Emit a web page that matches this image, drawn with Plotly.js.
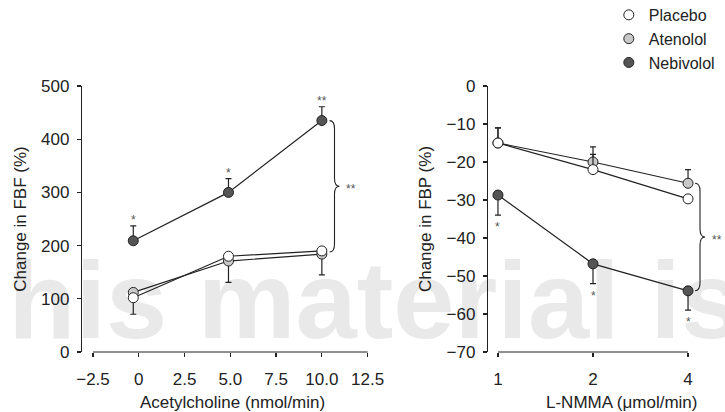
<!DOCTYPE html>
<html><head><meta charset="utf-8">
<script src="https://cdn.plot.ly/plotly-3.0.1.min.js"></script>
<style>html,body{margin:0;padding:0;background:#fff}#chart{width:725px;height:412px}</style>
</head><body><div id="chart"></div>
<script>
// ---- Left panel: acetylcholine dose response (Change in FBF, %) ----
const achDose = [-0.3, 4.9, 10];
const achPlacebo = [102, 180, 190];
const achAtenolol = [112, 171, 184];
const achNebivolol = [209, 300, 435];
const achPlaceboErrDown = [31, 0, 0];
const achAtenololErrDown = [0, 40, 39];
const achNebivololErrUp = [28, 26, 26];
const achStars = ['*', '*', '**'];
const achTickVals = [-2.5, 0, 2.5, 5, 7.5, 10, 12.5];
const achTickText = ['\u22122.5', '0', '2.5', '5.0', '7.5', '10.0', '12.5'];

// ---- Right panel: L-NMMA dose response (Change in FBP, %) ----
const lnmmaDose = ['1', '2', '4'];
const lnmmaPlacebo = [-15, -22, -29.7];
const lnmmaAtenolol = [-15, -20, -25.6];
const lnmmaNebivolol = [-28.7, -46.8, -53.9];
const lnmmaPlaceboErrUp = [4, 4, 0];
const lnmmaAtenololErrUp = [4, 4, 3.6];
const lnmmaNebivololErrDown = [5.3, 5.2, 5.1];
const lnmmaStars = ['*', '*', '*'];

const seriesNames = ['Placebo', 'Atenolol', 'Nebivolol'];
const seriesFill = ['#ffffff', '#c8c8c8', '#555555'];

const INK = '#222222';
const FONT = 'Liberation Sans, Arial, sans-serif';
const zeros = [0, 0, 0];

function series(x, y, up, down, idx, xa, ya, showLegend) {
  const line = {
    x: x, y: y, xaxis: xa, yaxis: ya, type: 'scatter', mode: 'lines',
    line: {color: INK, width: 1.2}, showlegend: false, hoverinfo: 'skip'
  };
  const pts = {
    x: x, y: y, xaxis: xa, yaxis: ya, type: 'scatter', mode: 'markers',
    name: seriesNames[idx], legendrank: idx + 1,
    showlegend: showLegend,
    marker: {size: 10, color: seriesFill[idx], line: {color: INK, width: 1}},
    error_y: {type: 'data', symmetric: false, array: up, arrayminus: down,
              color: INK, thickness: 1.2, width: 3}
  };
  return [line, pts];
}

const data = [].concat(
  series(achDose, achNebivolol, achNebivololErrUp, zeros, 2, 'x', 'y', true),
  series(achDose, achAtenolol, zeros, achAtenololErrDown, 1, 'x', 'y', true),
  series(achDose, achPlacebo, zeros, achPlaceboErrDown, 0, 'x', 'y', true),
  series(lnmmaDose, lnmmaNebivolol, zeros, lnmmaNebivololErrDown, 2, 'x2', 'y2', false),
  series(lnmmaDose, lnmmaAtenolol, lnmmaAtenololErrUp, zeros, 1, 'x2', 'y2', false),
  series(lnmmaDose, lnmmaPlacebo, lnmmaPlaceboErrUp, zeros, 0, 'x2', 'y2', false)
);

const starFont = {family: FONT, size: 12, color: '#555'};
const annotations = [];
achDose.forEach((d, i) => annotations.push({
  x: d, y: achNebivolol[i] + achNebivololErrUp[i], xref: 'x', yref: 'y',
  text: achStars[i], showarrow: false, yanchor: 'middle', yshift: 6, font: starFont
}));
lnmmaDose.forEach((d, i) => annotations.push({
  x: i, y: lnmmaNebivolol[i] - lnmmaNebivololErrDown[i], xref: 'x2', yref: 'y2',
  text: lnmmaStars[i], showarrow: false, yanchor: 'middle', yshift: -12, font: starFont
}));

function brace(xL, xM, xT, yTop, yBot, d, xa, ya) {
  const yMid = (yTop + yBot) / 2;
  return {
    type: 'path', xref: xa, yref: ya, line: {color: INK, width: 1.1},
    path: `M ${xL},${yTop} Q ${xM},${yTop} ${xM},${yTop - d} L ${xM},${yMid + d} ` +
          `Q ${xM},${yMid} ${xT},${yMid} Q ${xM},${yMid} ${xM},${yMid - d} ` +
          `L ${xM},${yBot + d} Q ${xM},${yBot} ${xL},${yBot}`
  };
}
const achTop = achNebivolol[2], achBot = achPlacebo[2] - 2;
const lnTop = lnmmaAtenolol[2], lnBot = lnmmaNebivolol[2];
annotations.push({x: 11.57, y: (achTop + achBot) / 2, xref: 'x', yref: 'y', text: '**',
  showarrow: false, yanchor: 'middle', yshift: -3, font: starFont});
annotations.push({x: 2.3, y: (lnTop + lnBot) / 2, xref: 'x2', yref: 'y2', text: '**',
  showarrow: false, yanchor: 'middle', yshift: -3, font: starFont});

// axis titles placed as text in paper coordinates
const titleFont = {family: FONT, size: 17, color: INK};
annotations.push({x: 0.2333, y: -0.188, xref: 'paper', yref: 'paper', text: 'Acetylcholine (nmol/min)',
  showarrow: false, xanchor: 'center', yanchor: 'middle', font: titleFont});
annotations.push({x: 0.8383, y: -0.188, xref: 'paper', yref: 'paper', text: 'L-NMMA (\u03bcmol/min)',
  showarrow: false, xanchor: 'center', yanchor: 'middle', font: titleFont});

const shapes = [
  {type: 'rect', xref: 'paper', yref: 'paper', x0: -0.124, x1: 1.2, y0: 0.135, y1: 0.335,
   layer: 'below', line: {width: 0}, fillcolor: 'rgba(0,0,0,0)',
   label: {text: 'his material is', textposition: 'middle left',
           font: {family: FONT, size: 110, color: '#e9e9e9', weight: 'bold'}}},
  brace(10.42, 10.69, 10.96, achTop, achBot, 15, 'x', 'y'),
  brace(2.074, 2.126, 2.18, lnTop, lnBot, 2.1, 'x2', 'y2'),
  {type: 'line', xref: 'x', yref: 'paper', x0: achTickVals[0], x1: achTickVals[achTickVals.length - 1],
   y0: 0, y1: 0, line: {color: INK, width: 1.2}},
  {type: 'line', xref: 'x2', yref: 'paper', x0: 0, x1: lnmmaDose.length - 1,
   y0: 0, y1: 0, line: {color: INK, width: 1.2}}
];

const tickFont = {family: FONT, size: 17, color: INK};
const yCommon = {showgrid: false, zeroline: false, showline: true, linecolor: INK, linewidth: 1.2,
  ticks: 'outside', ticklen: 4, tickwidth: 1.2, tickcolor: INK, tickfont: tickFont,
  ticklabelstandoff: 4};
const xCommon = {showgrid: false, zeroline: false, showline: false,
  ticks: 'outside', ticklen: 4, tickwidth: 1.2, tickcolor: INK, tickfont: tickFont,
  ticklabelstandoff: 8};

const layout = {
  width: 725, height: 412, paper_bgcolor: '#fff', plot_bgcolor: 'rgba(0,0,0,0)',
  margin: {l: 82, r: 0, t: 86, b: 60, autoexpand: false},
  showlegend: true, hovermode: false,
  legend: {x: 0.8193, y: 1.331, xanchor: 'left', yanchor: 'top', bgcolor: 'rgba(0,0,0,0)',
           tracegroupgap: 0, font: {family: FONT, size: 16, color: INK}},
  xaxis: Object.assign({}, xCommon, {domain: [0, 0.4448], range: [-3.1, 12.52], anchor: 'y',
    tickvals: achTickVals, ticktext: achTickText}),
  yaxis: Object.assign({}, yCommon, {domain: [0, 1], range: [0, 500], anchor: 'x',
    tickvals: [0, 100, 200, 300, 400, 500],
    title: {text: 'Change in FBF (%)', font: titleFont, standoff: 10}}),
  xaxis2: Object.assign({}, xCommon, {domain: [0.6314, 1], range: [-0.105, 2.389], anchor: 'y2',
    type: 'category'}),
  yaxis2: Object.assign({}, yCommon, {domain: [0, 1], range: [-70, 0], anchor: 'x2',
    tickvals: [-70, -60, -50, -40, -30, -20, -10, 0],
    title: {text: 'Change in FBP (%)', font: titleFont, standoff: 10}}),
  annotations: annotations,
  shapes: shapes
};

Plotly.newPlot('chart', data, layout, {staticPlot: true, displayModeBar: false});
</script></body></html>
